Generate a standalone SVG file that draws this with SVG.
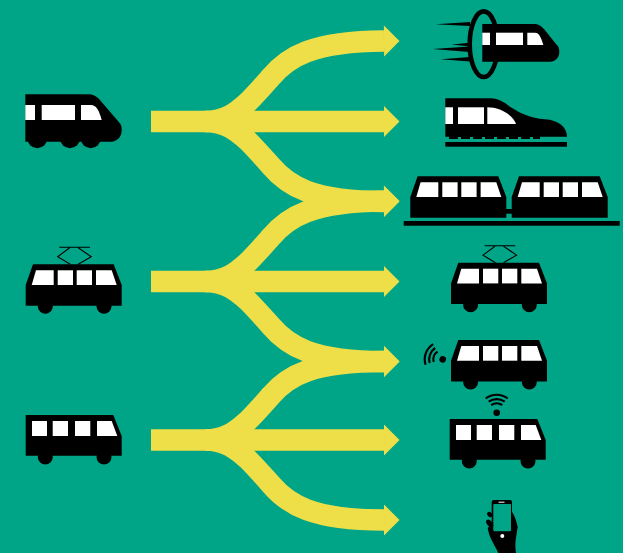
<svg xmlns="http://www.w3.org/2000/svg" width="623" height="553" viewBox="0 0 623 553">
<style>
.flow{fill:none;stroke:#EEDE48;stroke-width:21.5;marker-end:url(#head)}
.k{fill:#000}
.w{fill:#fff}
.wire{fill:none;stroke:#000;stroke-width:1.1}
.arc{fill:none;stroke:#000;stroke-width:2.2}
</style>
<defs>
<marker id="head" markerUnits="userSpaceOnUse" markerWidth="16" markerHeight="32" refX="0" refY="16" orient="auto" overflow="visible"><polygon points="0,0.5 15.5,16 0,31.5" fill="#EEDE48"/></marker>
<path id="trunk" class="flow" d="M151 121.5H384"/>
<path id="up" class="flow" d="M205 121.5C226 121.500 237 112 247.500 102.500C256 94 263 86 271 77C288 57 312 41.500 384 41"/>
<path id="down" class="flow" d="M205 121.500C226 121.500 237 131 247.500 140.500C256 149 263 157 271 166C288 186 312 201.500 384 201.500"/>
<g id="tramBody">
<polygon class="k" points="0,41.400 0,20.700 7.300,0 88,0 96,20.700 96,41.400"/>
<polygon class="w" points="6,20.700 10.300,6 28,6 28,20.700"/>
<rect class="w" x="32" y="6" width="15.300" height="14.700"/>
<rect class="w" x="51" y="6" width="15.300" height="14.700"/>
<polygon class="w" points="70.300,20.700 70.300,6 86,6 91,20.700"/>
</g>
<g id="wheels"><circle class="k" cx="19.600" cy="42" r="7.500"/><circle class="k" cx="78.300" cy="42" r="7.500"/></g>
<path id="pantograph" class="wire" d="M33.600-17H64.300M44-16.500L32-7.600 44.500 0M52.500-16.500L65.500-7.600 52.500 0"/>
<g id="busBody">
<polygon class="k" points="0,0 87.600,0 96,21 96,40.700 0,40.700"/>
<rect class="w" x="6.300" y="6" width="15" height="15"/>
<rect class="w" x="27" y="6" width="15.300" height="15"/>
<rect class="w" x="49.300" y="6" width="15.300" height="15"/>
<polygon class="w" points="71.300,21 71.300,6 86,6 91.600,21"/>
</g>
<g id="wifi">
<circle class="k" cx="0" cy="0" r="3.300"/>
<path class="arc" d="M-5.500-7.500A9 9 0 0 1 5.500-7.500"/>
<path class="arc" d="M-8-11A14 14 0 0 1 8-11"/>
<path class="arc" d="M-11-14.200A18 18 0 0 1 11-14.200"/>
</g>
</defs>
<rect width="623" height="553" fill="#00A587"/>
<g id="connectors">
<use href="#trunk"/><use href="#up"/><use href="#down"/>
<use href="#trunk" y="160"/><use href="#up" y="160"/><use href="#down" y="160"/>
<use href="#trunk" y="318.500"/>
<path class="flow" d="M205 440C226 440 237 430.500 247.500 421C256 412.500 263 404.500 271 395.500C288 375.500 312 361.500 384 361.500"/>
<use href="#down" y="318.500"/>
</g>
<g id="train-left">
<circle class="k" cx="37.300" cy="138.300" r="10"/><circle class="k" cx="70" cy="138.300" r="10"/><circle class="k" cx="90.700" cy="138.300" r="10"/>
<path class="k" d="M25.300 94.300H88C93 94.300 96 96 99 99L118 121C121 124.500 121.700 126 121.700 130C121.700 137 117 141.700 111 141.700H25.300Z"/>
<rect class="w" x="25.300" y="105" width="9.700" height="15"/>
<rect class="w" x="41.700" y="105" width="33.300" height="15"/>
<path class="w" d="M81 120V105H91C96 105 99 110 101.700 120Z"/>
</g>
<g id="tram-left" transform="translate(25.700 264.300)"><use href="#wheels"/><use href="#tramBody"/><use href="#pantograph"/></g>
<g id="bus-left" transform="translate(25.700 415)"><use href="#wheels"/><use href="#busBody"/></g>
<g id="fast-train">
<polygon class="k" points="435.700,24.300 470,22 470,26"/>
<polygon class="k" points="451.700,44.500 470,42.700 470,46.500"/>
<polygon class="k" points="432.300,49 470,46.500 470,52"/>
<polygon class="k" points="440.700,59.300 470,57 470,61.500"/>
<ellipse cx="483.700" cy="44.200" rx="14" ry="32.800" fill="none" stroke="#000" stroke-width="4.600"/>
<path class="k" d="M482.300 24H533C539 24 541 26 544 29L556 44C559 47 559.300 49 559.300 52C559.300 58 555 61.700 550 61.700H482.300Z"/>
<rect class="w" x="482.300" y="32.700" width="7.700" height="12.300"/>
<rect class="w" x="496" y="32.700" width="27" height="12.300"/>
<path class="w" d="M527.300 45V32.700H535C539 32.700 541 37 543.300 45Z"/>
</g>
<g id="bullet-train">
<path class="k" d="M445.300 98.300H491C499 98.300 505 103 512 108C520 113 530 118 545 119.300C558 120 567 127 567 136.700H445.300Z"/>
<rect class="k" x="449" y="136" width="91" height="3"/>
<g fill="#00A587"><rect x="458" y="137" width="3" height="2.500"/><rect x="470" y="137" width="3" height="2.500"/><rect x="482" y="137" width="3" height="2.500"/><rect x="494" y="137" width="3" height="2.500"/><rect x="506" y="137" width="3" height="2.500"/><rect x="518" y="137" width="3" height="2.500"/><rect x="530" y="137" width="3" height="2.500"/></g>
<rect class="k" x="445.300" y="142" width="121.700" height="4.700"/>
<rect class="w" x="445.300" y="107.300" width="7.700" height="16.700"/>
<rect class="w" x="458" y="107.300" width="26" height="16.700"/>
<path class="w" d="M487.300 124V107.300C500 107.300 513 115 516 124Z"/>
</g>
<g id="light-rail">
<use href="#tramBody" x="410.300" y="176.300"/>
<use href="#tramBody" x="511.700" y="176.300"/>
<rect class="k" x="505" y="209" width="8" height="4.700"/>
<rect class="k" x="403.700" y="221" width="216" height="4.700"/>
</g>
<g id="tram-right" transform="translate(451 262.700)"><use href="#wheels"/><use href="#tramBody"/><use href="#pantograph"/></g>
<g id="connected-bus">
<g transform="translate(451 340)"><use href="#wheels"/><use href="#tramBody"/></g>
<use href="#wifi" transform="translate(442.700 359.300) rotate(-70)"/>
</g>
<g id="wifi-bus">
<g transform="translate(449.700 419)"><use href="#wheels"/><use href="#busBody"/></g>
<use href="#wifi" transform="translate(496.700 412.700)"/>
</g>
<g id="phone-hand">
<path class="k" d="M487.700 528C489 538 495 545 498.300 553H516C515 547 515 543 517.700 527C516 518 512 510 508 507Z"/>
<rect class="k" x="491.700" y="500" width="20.300" height="33" rx="2"/>
<rect x="493.300" y="504" width="17.700" height="27.300" rx="1" fill="#00A587"/>
<rect class="w" x="498.500" y="501.700" width="6" height="1"/>
<circle class="w" cx="502.300" cy="536" r="2"/>
<ellipse class="k" cx="489.700" cy="514.500" rx="2.200" ry="3" transform="rotate(-40 489.700 514.500)"/>
<ellipse class="k" cx="489.700" cy="523.500" rx="2.600" ry="4.500" transform="rotate(-40 489.700 523.500)"/>
</g>
</svg>
